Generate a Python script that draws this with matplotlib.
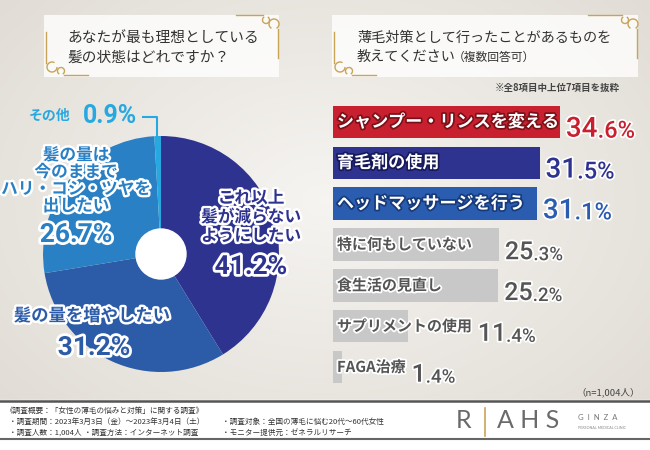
import numpy as np
import matplotlib
matplotlib.use("Agg")
import matplotlib.pyplot as plt
import matplotlib.patheffects as pe
from matplotlib.patches import Rectangle, Circle, Arc

plt.rcParams['font.family'] = ['Noto Sans CJK JP', 'DejaVu Sans']

# left question: ideal hair state
pie_values = [41.2, 31.2, 26.7, 0.9]
pie_colors = ["#2e3390", "#2c5ba8", "#2a80c4", "#28a8e0"]

# right question: what measures were taken
bar_labels = ["シャンプー・リンスを変える", "育毛剤の使用", "ヘッドマッサージを行う",
              "特に何もしていない", "食生活の見直し", "サプリメントの使用", "FAGA治療"]
bar_values = [34.6, 31.5, 31.1, 25.3, 25.2, 11.4, 1.4]
bar_colors = ["#c8202e", "#2e3390", "#2a5cb0", "#c8c8c8", "#c8c8c8", "#c8c8c8", "#c8c8c8"]
bar_text_colors = ["#c8202e", "#2e3390", "#2a5cb0", "#555555", "#555555", "#555555", "#555555"]
bar_strokes = ["#7a1018", "#171a5a", "#173a7a", "white", "white", "white", "white"]

W, H = 650, 450
GOLD = "#c8a456"


def rect(x0, y0, w, h):
    return [x0 / W, 1 - (y0 + h) / H, w / W, h / H]


fig = plt.figure(figsize=(6.5, 4.5), dpi=100)

# background
bg = fig.add_axes([0, 0, 1, 1], zorder=0)
bg.set_xlim(0, W)
bg.set_ylim(H, 0)
bg.axis("off")
yy, xx = np.mgrid[0:H, 0:W]
d = np.sqrt(((xx - 325) / 420.0) ** 2 + ((yy - 200) / 300.0) ** 2)
d = np.clip(d, 0, 1)[..., None]
c0 = np.array([0.965, 0.958, 0.946])
c1 = np.array([0.885, 0.868, 0.840])
bg.imshow(c0 * (1 - d) + c1 * d, extent=(0, W, H, 0), aspect="auto", zorder=0)

# footer
bg.add_patch(Rectangle((0, 400), W, 50, color="white", zorder=1))
bg.plot([0, W], [400.5, 400.5], color="#555555", lw=1.8, zorder=2)
bg.plot([0, W], [439, 439], color="#666666", lw=1.5, zorder=2)
foot = dict(fontsize=5.5, color="#333333", va="center", zorder=3)
bg.text(6, 411, "《調査概要：「女性の薄毛の悩みと対策」に関する調査》", **foot)
bg.text(9, 422, "・調査期間：2023年3月3日（金）～2023年3月4日（土）", **foot)
bg.text(222, 422, "・調査対象：全国の薄毛に悩む20代～60代女性", **foot)
bg.text(9, 433, "・調査人数：1,004人", **foot)
bg.text(84, 433, "・調査方法：インターネット調査", **foot)
bg.text(222, 433, "・モニター提供元：ゼネラルリサーチ", **foot)

# logo
bg.text(456, 421, "R", fontsize=18, family="Lato", color="#6a6a6a", va="center", zorder=3)
bg.plot([485, 485], [408, 436], color=GOLD, lw=1.2, zorder=3)
bg.text(497, 421, "A H S", fontsize=18, family="Lato", color="#6a6a6a", va="center", zorder=3)
bg.text(578, 417, "G  I  N  Z  A", fontsize=5.5, family="Lato", color="#777777", va="center", zorder=3)
bg.text(578, 428, "PERSONAL MEDICAL CLINIC", fontsize=2.6, family="Lato", color="#888888", va="center", zorder=3)

# title boxes with gold ornaments
def title_box(x0, y0, x1, y1, lx_end, tr_start):
    bg.add_patch(Rectangle((x0, y0), x1 - x0, y1 - y0, color="white", alpha=0.8, lw=0, zorder=1))
    kw = dict(color=GOLD, lw=1.0, zorder=2)
    # bottom-left bracket
    bg.plot([x0 + 2, x0 + 2], [y0 + 17, y1 - 14], **kw)
    bg.add_patch(Arc((x0 + 8, y1 - 10), 10, 10, theta1=0, theta2=300, color=GOLD, lw=1.0, zorder=2))
    bg.add_patch(Arc((x0 + 17, y1 - 6), 7, 7, theta1=120, theta2=420, color=GOLD, lw=1.0, zorder=2))
    bg.plot([x0 + 20, lx_end], [y1 - 2, y1 - 2], **kw)
    # top-right bracket
    bg.plot([tr_start, x1 - 16], [y0, y0], **kw)
    bg.add_patch(Arc((x1 - 13, y0 + 5), 7, 7, theta1=300, theta2=600, color=GOLD, lw=1.0, zorder=2))
    bg.add_patch(Arc((x1 - 5, y0 + 9), 10, 10, theta1=120, theta2=420, color=GOLD, lw=1.0, zorder=2))
    bg.plot([x1 - 1, x1 - 1], [y0 + 14, y1 - 19], **kw)


title_box(44, 15, 279, 77, 88, 236)
title_box(332, 15, 638, 77, 376, 588)

bg.text(67, 38, "あなたが最も理想としている", fontsize=10.6, color="#333333", va="center", zorder=3)
bg.text(67, 58, "髪の状態はどれですか？", fontsize=10.6, color="#333333", va="center", zorder=3)
bg.text(357, 38, "薄毛対策として行ったことがあるものを", fontsize=10.2, color="#333333", va="center", zorder=3)
t2 = bg.text(357, 57, "教えてください", fontsize=10.2, color="#333333", va="center", zorder=3)
bg.annotate("（複数回答可）", xy=(1, 0.5), xycoords=t2, xytext=(-2, 0), textcoords="offset points",
            fontsize=8.5, color="#333333", va="center", ha="left", zorder=3)
bg.text(620, 88, "※全8項目中上位7項目を抜粋", fontsize=6.8, fontweight="bold", color="#444444",
        ha="right", va="center", zorder=3)
bg.text(640, 392, "（n=1,004人）", fontsize=6.8, color="#444444", ha="right", va="center", zorder=3)

# donut
cx, cy, r, hole = 161, 254, 118, 25
ax_pie = fig.add_axes(rect(cx - r, cy - r, 2 * r, 2 * r), zorder=1)
ax_pie.pie(pie_values, colors=pie_colors, startangle=90, counterclock=False, radius=1,
           wedgeprops=dict(edgecolor="none"))
ax_pie.add_patch(Circle((0, 0), hole / r, color="white", zorder=5))
ax_pie.set_xlim(-1, 1)
ax_pie.set_ylim(-1, 1)
ax_pie.set_aspect("equal")
ax_pie.axis("off")

# overlay for donut labels
top = fig.add_axes([0, 0, 1, 1], zorder=3)
top.set_xlim(0, W)
top.set_ylim(H, 0)
top.axis("off")
top.patch.set_alpha(0)


def outlined(x, y, s, size, color, num=False, lw=3.5):
    fam = ["Roboto", "DejaVu Sans"] if num else ["Noto Sans CJK JP", "DejaVu Sans"]
    top.text(x, y, s, fontsize=size, color=color, fontweight="bold", family=fam,
             ha="center", va="center",
             path_effects=[pe.withStroke(linewidth=lw, foreground="white")])


for s, y in zip(["これ以上", "髪が減らない", "ようにしたい"], [198, 217, 236]):
    outlined(251, y, s, 12, pie_colors[0])
outlined(251, 267, f"{pie_values[0]}%", 19, pie_colors[0], num=True, lw=4)

outlined(92, 316, "髪の量を増やしたい", 12.5, pie_colors[1])
outlined(94, 348, f"{pie_values[1]}%", 19, pie_colors[1], num=True, lw=4)

for s, y in zip(["髪の量は", "今のままで", "ハリ・コシ・ツヤを", "出したい"], [155, 172, 189, 206]):
    outlined(76, y, s, 12, pie_colors[2])
outlined(76, 235, f"{pie_values[2]}%", 19, pie_colors[2], num=True, lw=4)

top.text(50, 116, "その他", fontsize=10, fontweight="bold", color=pie_colors[3], ha="center", va="center")
top.text(83, 116, f"{pie_values[3]}%", fontsize=18, fontweight="bold", family=["Roboto", "DejaVu Sans"],
         color=pie_colors[3], ha="left", va="center")
top.plot([143, 157, 157], [117, 117, 136], color=pie_colors[3], lw=1.5)

# bars
px_per = 6.56
ax_bar = fig.add_axes(rect(333, 101.6, 300, 285.8), zorder=2)
ax_bar.set_xlim(0, 300 / px_per)
ax_bar.set_ylim(len(bar_values) - 0.5, -0.5)
ax_bar.axis("off")
ax_bar.patch.set_alpha(0)
ypos = np.arange(len(bar_values))
ax_bar.barh(ypos, bar_values, height=0.8, color=bar_colors)

labels = []
for i, (lab, col, st) in enumerate(zip(bar_labels, bar_colors, bar_strokes)):
    if st == "white":
        t = ax_bar.text(0.6, i, lab, fontsize=10.8, fontweight="bold", color="#555555", va="center",
                        path_effects=[pe.withStroke(linewidth=2.5, foreground="white")])
    else:
        t = ax_bar.text(0.6, i, lab, fontsize=12.3, fontweight="bold", color="white", va="center",
                        path_effects=[pe.withStroke(linewidth=2.5, foreground=st)])
    labels.append(t)

fig.canvas.draw()
renderer = fig.canvas.get_renderer()
inv = ax_bar.transData.inverted()
for i, (v, t, tc) in enumerate(zip(bar_values, labels, bar_text_colors)):
    ext = t.get_window_extent(renderer)
    lab_end = inv.transform((ext.x1, 0))[0]
    end = max(v, lab_end)
    big, small = (20, 17) if i < 3 else (18, 13.5)
    whole, frac = f"{v}".split(".")
    n1 = ax_bar.text(end + 0.9, i + 0.36, whole, fontsize=big, fontweight="medium",
                     family=["Roboto", "DejaVu Sans"], color=tc, va="baseline", ha="left",
                     path_effects=[pe.withStroke(linewidth=2.5, foreground="white")])
    ax_bar.annotate("." + frac + "%", xy=(1, 0), xycoords=n1, fontsize=small, fontweight="medium",
                    family=["Roboto", "DejaVu Sans"], color=tc, va="bottom", ha="left",
                    path_effects=[pe.withStroke(linewidth=2.5, foreground="white")])

fig.savefig("out.png", dpi=100)
